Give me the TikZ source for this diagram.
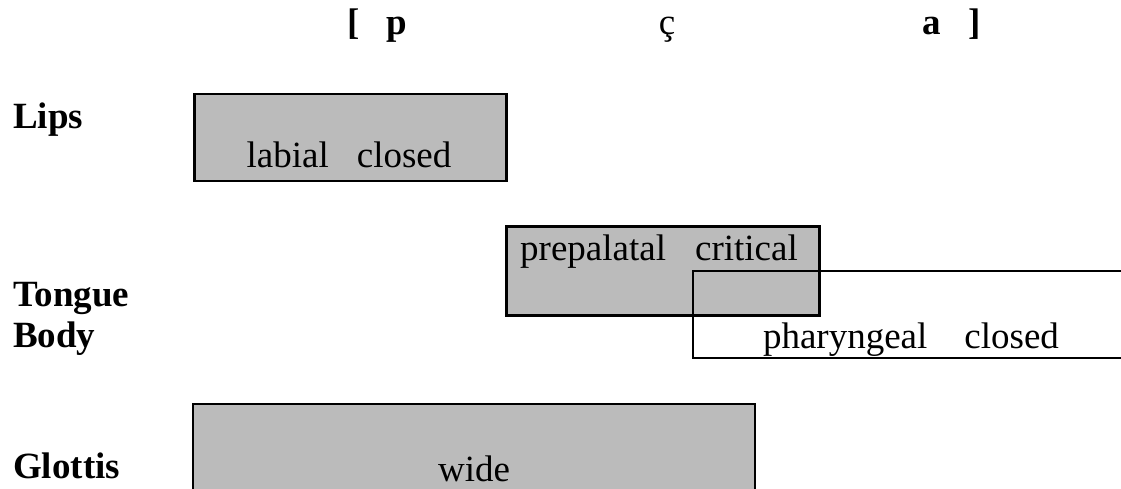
\documentclass[tikz,border=0pt]{standalone}
\usepackage{fontspec}
\setmainfont{Liberation Serif}
\usetikzlibrary{positioning}
\definecolor{gestgray}{HTML}{BBBBBB}
\newcommand{\gestsize}{\fontsize{37}{40}\selectfont}
\tikzset{
  gesture/.style={draw=black, fill=gestgray, line width=2.5pt},
  outline/.style={draw=black, line width=2.5pt},
  tier/.style={font=\gestsize\bfseries, anchor=base west, inner sep=0pt},
  seg/.style={font=\gestsize, anchor=base, inner sep=0pt},
  param/.style={font=\gestsize, anchor=base, inner sep=0pt}
}

\begin{document}
\begin{tikzpicture}[x=1pt,y=-1pt]
\useasboundingbox (0,0) rectangle (1121,489);
% transcription
\node[seg,font=\gestsize\bfseries] (lbr) at (354,35) {[};
\node[seg,font=\gestsize\bfseries] (segp) at (397,35) {p};
\node[seg] (segc) at (667,35) {ç};
\node[seg,font=\gestsize\bfseries] (sega) at (932,35) {a};
\node[seg,font=\gestsize\bfseries] (rbr) at (975,35) {]};
% tiers
\node[tier] (lips) at (13,129) {Lips};
\node[tier] (tongue) at (13,306) {Tongue};
\node[tier] (body) at (13,347) {Body};
\node[tier] (glottis) at (13,478) {Glottis};
% gestures
\node[gesture, anchor=north west, minimum width=312pt, minimum height=87pt] (labial) at (193,93) {};
\node[gesture, anchor=north west, minimum width=313pt, minimum height=89pt] (prepal) at (505,225) {};
\coordinate (pharTR) at (1125,271);
\coordinate (pharTL) at (693,271);
\coordinate (pharBL) at (693,358);
\coordinate (pharBR) at (1125,358);
\draw[outline] (pharTR) -- (pharTL) -- (pharBL) -- (pharBR);
\coordinate (glotBL) at (193,495);
\coordinate (glotTL) at (193,404);
\coordinate (glotTR) at (755,404);
\coordinate (glotBR) at (755,495);
\draw[gesture] (glotBL) -- (glotTL) -- (glotTR) -- (glotBR);
% gesture values
\node[param] (labialval) at (349,168) {labial\hspace{28pt}closed};
\node[param] (prepalval) at (659,260) {prepalatal\hspace{29pt}critical};
\node[param] (pharval) at (911,348) {pharyngeal\hspace{37pt}closed};
\node[param] (glotval) at (474,481) {wide};
\end{tikzpicture}
\end{document}
